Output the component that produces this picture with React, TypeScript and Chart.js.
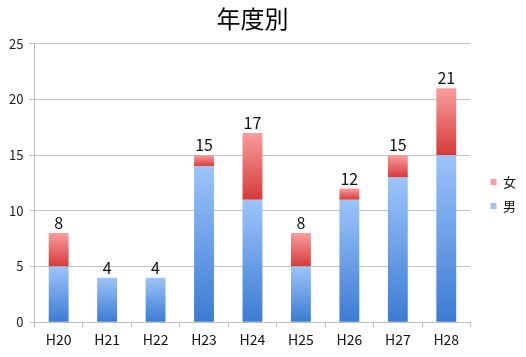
import React, { useEffect, useRef } from "react";
import { Chart, registerables } from "chart.js";

Chart.register(...registerables);

const categories = ["H20", "H21", "H22", "H23", "H24", "H25", "H26", "H27", "H28"];
const maleValues = [5, 4, 4, 14, 11, 5, 11, 13, 15];
const femaleValues = [3, 0, 0, 1, 6, 3, 1, 2, 6];
const totals = categories.map((_, i) => maleValues[i] + femaleValues[i]);
const yTicks = [0, 5, 10, 15, 20, 25];

const FONT = "'Noto Sans CJK JP', 'Open Sans', sans-serif";
const LEGEND_SHIFT = 9;

function segmentGradient(ctx: any, top: string, bottom: string, solid: string, base: (i: number) => number, val: (i: number) => number) {
  if (ctx.type !== "data") return solid;
  const chart = ctx.chart;
  const y = chart.scales?.y;
  if (!y || !chart.chartArea) return solid;
  const i = ctx.dataIndex;
  const y0 = y.getPixelForValue(base(i));
  const y1 = y.getPixelForValue(base(i) + val(i));
  if (!isFinite(y0) || !isFinite(y1) || y0 === y1) return solid;
  const g = chart.ctx.createLinearGradient(0, y1, 0, y0);
  g.addColorStop(0, top);
  g.addColorStop(1, bottom);
  return g;
}

const totalLabels = {
  id: "totalLabels",
  afterDatasetsDraw(chart: any) {
    const { ctx, scales } = chart;
    const meta = chart.getDatasetMeta(0);
    ctx.save();
    ctx.font = `16px ${FONT}`;
    ctx.fillStyle = "#111";
    ctx.textAlign = "center";
    ctx.textBaseline = "bottom";
    totals.forEach((t, i) => {
      const x = meta.data[i].x;
      const y = scales.y.getPixelForValue(t);
      ctx.fillText(String(t), x, y - 2);
    });
    ctx.restore();
  },
};

const legendOffset = {
  id: "legendOffset",
  beforeLayout(chart: any) {
    const lg = chart.legend;
    if (lg && !lg._offsetPatched) {
      const orig = lg.fit.bind(lg);
      lg.fit = function () {
        orig();
        this.width += LEGEND_SHIFT;
      };
      lg._offsetPatched = true;
    }
  },
  afterLayout(chart: any) {
    const lg = chart.legend;
    if (lg) {
      lg.left += LEGEND_SHIFT;
      lg.width -= LEGEND_SHIFT;
    }
  },
};

export default function App() {
  const ref = useRef<HTMLCanvasElement>(null);
  useEffect(() => {
    document.body.style.margin = "0";
    const chart = new Chart(ref.current!, {
      type: "bar",
      data: {
        labels: categories,
        datasets: [
          {
            label: "男",
            data: maleValues,
            backgroundColor: (ctx: any) =>
              segmentGradient(ctx, "#9dc4fa", "#3b7bd3", "#5b95e6", () => 0, (i) => maleValues[i]),
            barPercentage: 0.41,
            categoryPercentage: 1,
          },
          {
            label: "女",
            data: femaleValues,
            backgroundColor: (ctx: any) =>
              segmentGradient(ctx, "#fa9d9d", "#d63a3a", "#e05555", (i) => maleValues[i], (i) => femaleValues[i]),
            barPercentage: 0.41,
            categoryPercentage: 1,
          },
        ],
      },
      options: {
        responsive: false,
        animation: false,
        maintainAspectRatio: false,
        layout: { padding: { left: 3, right: 0, top: 0, bottom: 5 } },
        plugins: {
          title: {
            display: true,
            text: "年度別",
            fullSize: false,
            color: "#000",
            font: { family: FONT, size: 24, weight: "normal" },
            padding: { top: 4, bottom: 11 },
          },
          legend: {
            position: "right",
            fullSize: false,
            reverse: true,
            title: { display: true, text: " ", font: { size: 10 }, padding: 5 },
            labels: {
              boxWidth: 6,
              boxHeight: 6,
              padding: 11,
              color: "#111",
              font: { family: FONT, size: 13 },
            },
          },
          tooltip: { enabled: false },
        },
        scales: {
          x: {
            stacked: true,
            grid: {
              offset: true,
              drawOnChartArea: false,
              drawTicks: true,
              tickLength: 5,
              color: "#bdbdbd",
            },
            border: { color: "#bdbdbd" },
            ticks: { color: "#111", font: { family: FONT, size: 14 }, padding: 4 },
          },
          y: {
            stacked: true,
            min: 0,
            max: 25,
            afterBuildTicks: (axis: any) => {
              axis.ticks = yTicks.map((v) => ({ value: v }));
            },
            grid: { color: "#c4c4c4", tickLength: 5 },
            border: { color: "#bdbdbd" },
            ticks: { color: "#222", font: { family: FONT, size: 13 }, padding: 6 },
          },
        },
      },
      plugins: [totalLabels, legendOffset],
    });
    return () => chart.destroy();
  }, []);
  return (
    <div style={{ position: "fixed", left: 0, top: 0, width: 526, height: 357 }}>
      <canvas ref={ref} width={526} height={357} />
    </div>
  );
}
